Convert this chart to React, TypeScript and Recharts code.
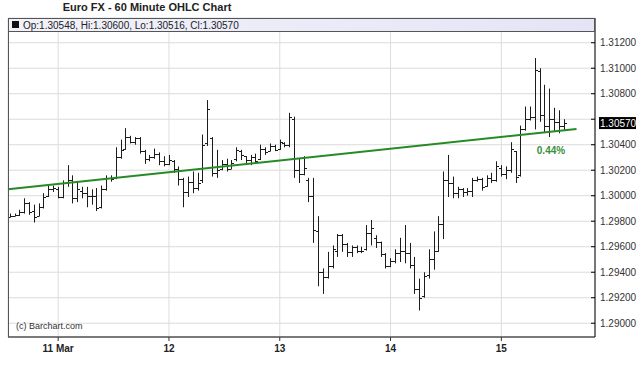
import { Bar, CartesianGrid, ComposedChart, ReferenceLine, XAxis, YAxis } from "recharts"

// hourly bars, 23 per session
const OPEN = [
  1.2983, 1.2984, 1.2985, 1.2987, 1.2994, 1.2988, 1.2984, 1.2991, 1.3, 1.3005,
  1.3005, 1.2999, 1.301, 1.3012, 1.2998, 1.3004, 1.3002, 1.3, 1.3, 1.2991,
  1.3005, 1.3014, 1.3014, 1.303, 1.3037, 1.3046, 1.3042, 1.3045, 1.3035, 1.3029,
  1.303, 1.3033, 1.3027, 1.3025, 1.3027, 1.3021, 1.3013, 1.3003, 1.3011, 1.3006,
  1.3012, 1.3041, 1.3045, 1.3018, 1.3021, 1.3025, 1.3021, 1.3029, 1.3035, 1.3031,
  1.3028, 1.303, 1.3029, 1.3037, 1.3035, 1.3039, 1.3037, 1.3041, 1.304, 1.306,
  1.302, 1.3017, 1.3012, 1.3, 1.2972, 1.294, 1.2936, 1.2945, 1.2957, 1.2969,
  1.2962, 1.2956, 1.296, 1.2957, 1.2958, 1.2971, 1.2967, 1.2964, 1.2954, 1.2945,
  1.2949, 1.2955, 1.2957, 1.2955, 1.2946, 1.2927, 1.2921, 1.2938, 1.295, 1.2957,
  1.2978, 1.3012, 1.301, 1.3002, 1.3005, 1.3003, 1.3004, 1.3012, 1.3013, 1.3008,
  1.3014, 1.3012, 1.3022, 1.3017, 1.302, 1.3035, 1.3016, 1.3052, 1.306, 1.3062,
  1.3098, 1.3063, 1.3055, 1.306, 1.3058, 1.30548,
]
const HIGH = [
  1.2986, 1.2986, 1.2989, 1.2998, 1.2995, 1.2993, 1.2994, 1.3002, 1.3008, 1.3008,
  1.3007, 1.3012, 1.3024, 1.3016, 1.3011, 1.3007, 1.3007, 1.3005, 1.3006, 1.3008,
  1.3016, 1.3016, 1.3038, 1.3044, 1.3053, 1.3047, 1.3046, 1.3046, 1.3036, 1.3032,
  1.3037, 1.3034, 1.3031, 1.3032, 1.3028, 1.3023, 1.3014, 1.3015, 1.3019, 1.3018,
  1.3048, 1.3075, 1.3046, 1.3036, 1.3028, 1.3029, 1.3028, 1.3038, 1.3036, 1.3031,
  1.3032, 1.3033, 1.304, 1.3038, 1.3041, 1.304, 1.3044, 1.3042, 1.3065, 1.3062,
  1.3029, 1.3031, 1.3014, 1.3014, 1.2984, 1.2943, 1.2956, 1.2961, 1.297, 1.297,
  1.2963, 1.2961, 1.2961, 1.296, 1.2977, 1.2981, 1.2969, 1.2964, 1.2955, 1.2951,
  1.2958, 1.2967, 1.2977, 1.2963, 1.2952, 1.2935, 1.294, 1.2958, 1.2972, 1.2984,
  1.3019, 1.3032, 1.3015, 1.3007, 1.3006, 1.3006, 1.3014, 1.3015, 1.3014, 1.3016,
  1.3018, 1.3027, 1.3024, 1.3023, 1.3042, 1.3035, 1.3055, 1.307, 1.307, 1.3108,
  1.31, 1.3087, 1.3084, 1.3069, 1.3067, 1.306,
]
const LOW = [
  1.2983, 1.2984, 1.2984, 1.2986, 1.2985, 1.2979, 1.2984, 1.299, 1.2999, 1.3003,
  1.2998, 1.2998, 1.3007, 1.2994, 1.2995, 1.2998, 1.2991, 1.2993, 1.2988, 1.299,
  1.3004, 1.3011, 1.3013, 1.3029, 1.3036, 1.3041, 1.304, 1.3033, 1.3025, 1.3027,
  1.3029, 1.3024, 1.3023, 1.3024, 1.3018, 1.3008, 1.2991, 1.2999, 1.3002, 1.3004,
  1.301, 1.3039, 1.3015, 1.3014, 1.302, 1.3019, 1.3021, 1.3027, 1.3028, 1.3025,
  1.3024, 1.3025, 1.3028, 1.3032, 1.3035, 1.3035, 1.3036, 1.3038, 1.3038, 1.3014,
  1.301, 1.3016, 1.2995, 1.2963, 1.2929, 1.2923, 1.2935, 1.2943, 1.2952, 1.2956,
  1.2952, 1.2952, 1.2955, 1.2955, 1.2957, 1.2961, 1.2959, 1.2952, 1.2943, 1.2944,
  1.2947, 1.2948, 1.2947, 1.2943, 1.2923, 1.291, 1.292, 1.2935, 1.2942, 1.2956,
  1.2966, 1.2999, 1.2998, 1.2998, 1.2999, 1.3, 1.2999, 1.3011, 1.3004, 1.3007,
  1.301, 1.3011, 1.3015, 1.3013, 1.3018, 1.301, 1.3015, 1.3051, 1.3059, 1.3052,
  1.3058, 1.305, 1.3046, 1.305, 1.3049, 1.30516,
]
const CLOSE = [
  1.2984, 1.2985, 1.2987, 1.2994, 1.2987, 1.2983, 1.2991, 1.2999, 1.3005, 1.3006,
  1.2999, 1.301, 1.3012, 1.2998, 1.3005, 1.3002, 1.3, 1.3, 1.299, 1.3005,
  1.3014, 1.3013, 1.303, 1.3036, 1.3046, 1.3042, 1.3045, 1.3035, 1.3029, 1.303,
  1.3033, 1.3027, 1.3025, 1.3028, 1.3021, 1.3013, 1.3003, 1.3011, 1.3006, 1.301,
  1.304, 1.3068, 1.3018, 1.302, 1.3025, 1.3021, 1.3026, 1.3036, 1.3032, 1.3028,
  1.303, 1.3027, 1.3037, 1.3034, 1.3039, 1.3036, 1.3042, 1.304, 1.3062, 1.302,
  1.3017, 1.3022, 1.3, 1.2973, 1.294, 1.2936, 1.2945, 1.2958, 1.2969, 1.2962,
  1.2956, 1.296, 1.2957, 1.2957, 1.2971, 1.2975, 1.2964, 1.2954, 1.2945, 1.2949,
  1.2955, 1.2957, 1.2955, 1.2946, 1.2927, 1.292, 1.2937, 1.295, 1.2957, 1.2978,
  1.3012, 1.301, 1.3002, 1.3005, 1.3003, 1.3004, 1.3012, 1.3013, 1.3007, 1.3014,
  1.3012, 1.3023, 1.3017, 1.302, 1.3037, 1.3015, 1.3052, 1.306, 1.3062, 1.3099,
  1.3063, 1.3055, 1.306, 1.3058, 1.3055, 1.3057,
]

const DAY_TICKS = [10, 33, 56, 79, 102]
const DAY_LABELS = ["11 Mar", "12", "13", "14", "15"]
const PRICE_TICKS = [1.29, 1.292, 1.294, 1.296, 1.298, 1.3, 1.302, 1.304, 1.306, 1.308, 1.31, 1.312]
// tick whose label sits under the last-price box
const HIDDEN_TICK = 1.306
const LAST_PRICE = 1.3057
// trend line endpoints [bar index, price]
const TREND_START = [-0.415, 1.3005]
const TREND_END = [117.6, 1.30523]

const data = OPEN.map((open, i) => ({ i, open, high: HIGH[i], low: LOW[i], close: CLOSE[i] }))

const FONT = "'Liberation Sans', Arial, sans-serif"

const OhlcBar = (props: any) => {
  const { x, y, width, height, payload } = props
  const top = Math.min(y, y + height)
  const h = Math.abs(height)
  const span = payload.high - payload.low || 1
  const yO = Math.round(top + ((payload.high - payload.open) / span) * h) + 0.5
  const yC = Math.round(top + ((payload.high - payload.close) / span) * h) + 0.5
  const cx = Math.round(x + width / 2) + 0.5
  return (
    <g stroke="#1c1c1c" strokeWidth={1}>
      <line x1={cx} x2={cx} y1={top} y2={top + Math.max(h, 1)} />
      <line x1={cx - 2.5} x2={cx} y1={yO} y2={yO} />
      <line x1={cx} x2={cx + 2.5} y1={yC} y2={yC} />
    </g>
  )
}

const PriceTick = ({ x, y, payload }: any) => (
  <g>
    <line x1={x - 4} x2={x} y1={y} y2={y} stroke="#000" />
    {Math.abs(payload.value - HIDDEN_TICK) > 1e-9 && (
      <text x={x + 5} y={y} dy="0.35em" fontSize={10} fill="#333" fontFamily={FONT}>
        {payload.value.toFixed(5)}
      </text>
    )}
  </g>
)

const DayTick = ({ x, y, payload }: any) => (
  <g>
    <line x1={x} x2={x} y1={y} y2={y + 4} stroke="#333" />
    <text x={x} y={y + 15} textAnchor="middle" fontSize={10} fontWeight="bold" fill="#222" fontFamily={FONT}>
      {DAY_LABELS[DAY_TICKS.indexOf(payload.value)]}
    </text>
  </g>
)

const LastLabel = ({ viewBox }: any) => (
  <g>
    <rect x={viewBox.x + viewBox.width + 4} y={viewBox.y - 6} width={37} height={12} fill="#000" />
    <text x={viewBox.x + viewBox.width + 5} y={viewBox.y} dy="0.35em" fontSize={10} fill="#fff" fontFamily={FONT}>
      {LAST_PRICE.toFixed(5)}
    </text>
  </g>
)

export default function App() {
  return (
    <div style={{ position: "absolute", left: 0, top: 0, width: 640, height: 375, background: "#fff" }}>
      <ComposedChart width={640} height={375} data={data} margin={{ top: 18, right: 0, bottom: 0, left: 8 }}>
        <defs>
          <linearGradient id="strip" x1="0" x2="1" y1="0" y2="0">
            <stop offset="0" stopColor="#f2f2fb" />
            <stop offset="1" stopColor="#e4e4f6" />
          </linearGradient>
        </defs>
        <CartesianGrid stroke="#dcdcdc" />
        <XAxis
          dataKey="i"
          type="number"
          domain={[-0.415, 121.44]}
          ticks={DAY_TICKS}
          height={38}
          tickSize={0}
          tickMargin={0}
          tick={<DayTick />}
          axisLine={{ stroke: "#7a7a7a", strokeWidth: 2 }}
          tickLine={false}
        />
        <YAxis
          orientation="right"
          type="number"
          domain={[1.28892, 1.31394]}
          allowDataOverflow
          ticks={PRICE_TICKS}
          width={45}
          tickSize={0}
          tickMargin={0}
          tick={<PriceTick />}
          axisLine={{ stroke: "#000" }}
          tickLine={false}
        />
        <ReferenceLine
          segment={[
            { x: TREND_START[0], y: TREND_START[1] },
            { x: TREND_END[0], y: TREND_END[1] },
          ]}
          stroke="#268a26"
          strokeWidth={2}
        />
        <Bar dataKey={(d: any) => [d.low, d.high]} barSize={5} shape={<OhlcBar />} isAnimationActive={false} />
        <ReferenceLine y={LAST_PRICE} stroke="none" label={<LastLabel />} />
      </ComposedChart>
      <svg width={640} height={375} style={{ position: "absolute", left: 0, top: 0, pointerEvents: "none" }}>
        <text x={147} y={11} textAnchor="middle" fontSize={11} fontWeight="bold" fill="#222" fontFamily={FONT}>
          Euro FX - 60 Minute OHLC Chart
        </text>
        <rect x={8.5} y={18.5} width={586} height={13} fill="url(#strip)" stroke="#555" />
        <line x1={8.5} x2={8.5} y1={18} y2={337} stroke="#555" />
        <rect x={12} y={21} width={7} height={7} fill="#111" />
        <text x={23} y={25} dy="0.35em" fontSize={10} fill="#222" fontFamily={FONT}>
          Op:1.30548, Hi:1.30600, Lo:1.30516, Cl:1.30570
        </text>
        <text x={16} y={326} dy="0.35em" fontSize={9} fill="#333" fontFamily={FONT}>
          (c) Barchart.com
        </text>
        <text x={551} y={150} dy="0.35em" textAnchor="middle" fontSize={10} fontWeight="bold" fill="#3a8f3a" fontFamily={FONT}>
          0.44%
        </text>
      </svg>
    </div>
  )
}
